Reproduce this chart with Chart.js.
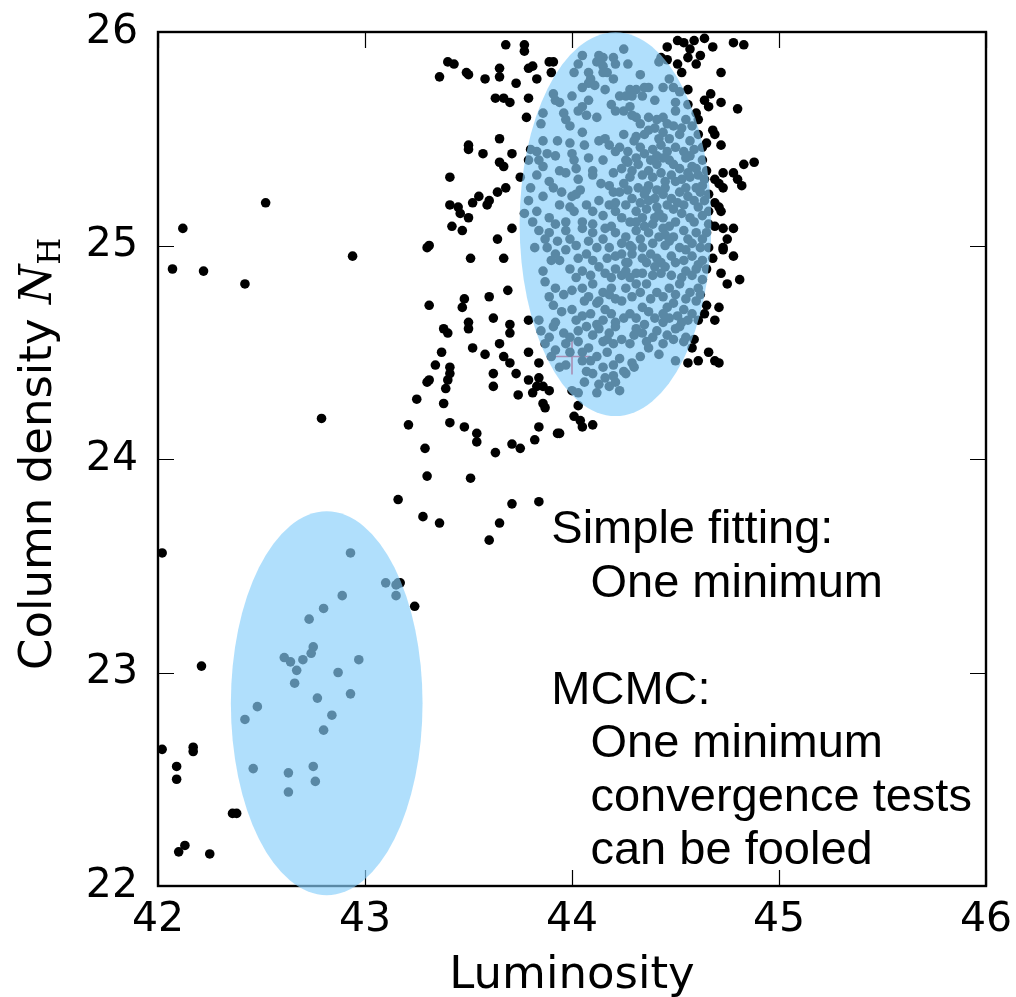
<!DOCTYPE html>
<html>
<head>
<meta charset="utf-8">
<script src="https://cdn.jsdelivr.net/npm/chart.js@4.4.1/dist/chart.umd.min.js"></script>
<style>
  html, body { margin: 0; padding: 0; background: #fff; }
  #wrap { width: 1016px; height: 997px; }
</style>
</head>
<body>
<div id="wrap"><canvas id="scatterChart"></canvas></div>
<script>
// tick labels
const lumTicks = [42, 43, 44, 45, 46];
const nhTicks = [22, 23, 24, 25, 26];

// black sample points around the upper solution (Luminosity, N_H)
const outerCloud = [
  [43.68,25.94],[43.77,25.94],[43.77,25.91],[43.40,25.86],[43.43,25.85],[43.36,25.79],[43.49,25.81],[43.50,25.80],
  [43.58,25.78],[43.65,25.83],[43.65,25.79],[43.73,25.76],[43.79,25.83],[43.81,25.84],[43.83,25.78],[43.91,25.86],
  [43.63,25.69],[43.67,25.69],[43.70,25.67],[43.79,25.69],[43.78,25.60],[43.65,25.50],[43.50,25.47],[43.50,25.45],
  [43.57,25.43],[43.71,25.43],[43.65,25.39],[43.67,25.37],[43.41,25.32],[43.75,25.32],[43.68,25.27],[43.64,25.25],
  [43.60,25.21],[43.59,25.19],[43.55,25.23],[43.52,25.20],[43.41,25.19],[43.45,25.18],[43.46,25.15],[43.50,25.13],
  [43.42,25.09],[43.47,25.07],[43.71,25.08],[43.64,25.03],[43.31,25.00],[43.30,24.99],[43.51,24.94],[43.67,24.94],
  [43.60,24.76],[43.69,24.79],[43.48,24.75],[43.47,24.71],[43.31,24.72],[43.38,24.61],[43.40,24.59],[43.50,24.64],
  [43.50,24.61],[43.62,24.66],[43.70,24.63],[43.70,24.59],[43.79,24.65],[43.52,24.52],[43.65,24.54],[43.58,24.49],
  [43.37,24.50],[43.67,24.48],[43.70,24.45],[43.73,24.40],[43.79,24.50],[43.84,24.45],[43.34,24.44],[43.41,24.43],
  [43.41,24.40],[43.40,24.37],[43.39,24.33],[43.30,24.36],[43.31,24.37],[43.62,24.40],[43.62,24.34],[43.79,24.37],
  [43.84,24.38],[43.83,24.34],[43.86,24.34],[43.89,24.32],[43.81,24.31],[43.86,24.26],[43.87,24.24],[43.74,24.30],
  [43.25,24.28],[43.38,24.26],[43.21,24.16],[43.41,24.17],[43.48,24.15],[43.54,24.12],[43.54,24.08],[43.84,24.15],
  [43.82,24.09],[43.93,24.12],[43.71,24.07],[43.75,24.05],[43.29,24.05],[43.63,24.03],[43.30,23.92],[43.89,25.86],
  [43.90,25.81],[44.01,24.20],[44.04,24.18],[44.10,24.16],[44.05,24.15],[43.94,24.12],[44.03,24.25],
  [43.16,23.81],[43.28,23.73],[43.36,23.70],[43.51,23.91],[43.71,23.79],[43.84,23.80],[43.65,23.70],[43.60,23.62],
  [43.24,23.31],[43.17,23.42],
  [42.12,25.08],[42.52,25.20],[42.07,24.89],[42.22,24.88],[42.42,24.82],[42.94,24.95],[42.79,24.19],
  [44.54,25.95],[44.59,25.96],[44.64,25.97],[44.68,25.93],[44.62,25.89],[44.56,25.88],[44.60,25.85],[44.78,25.95],
  [44.83,25.94],[44.72,25.81],[44.56,25.73],[44.64,25.68],[44.67,25.71],[44.72,25.67],[44.66,25.65],[44.80,25.64],
  [44.61,25.59],[44.68,25.54],[44.69,25.52],[44.65,25.48],[44.72,25.47],[44.88,25.39],[44.83,25.38],[44.78,25.34],
  [44.73,25.34],[44.69,25.31],[44.71,25.29],[44.80,25.31],[44.82,25.28],[44.73,25.27],[44.69,25.20],[44.71,25.18],
  [44.72,25.16],[44.69,25.09],[44.73,25.08],[44.78,25.08],[44.75,25.03],[44.73,24.99],[44.73,24.98],[44.68,24.94],
  [44.78,24.95],[44.72,24.87],[44.75,24.82],[44.81,24.84],[44.65,24.72],[44.71,24.71],[44.64,24.68],[44.69,24.65],
  [44.61,24.65],[44.59,24.56],[44.58,24.52],[44.66,24.50],[44.69,24.46],[44.71,24.45],[44.61,24.46],[44.56,24.45],
  [44.46,25.93],[44.51,25.96],[44.57,25.92],[44.43,25.88],[44.46,25.87],[44.51,25.85],[44.53,25.81]
];

// sample points inside the upper ellipse
const fitCloud = [
  [44.05,25.89],[44.13,25.89],[44.15,25.88],[44.20,25.88],[44.25,25.92],[44.21,25.85],[44.15,25.84],[44.12,25.86],
  [44.27,25.85],[44.01,25.81],[44.03,25.85],[44.08,25.81],[44.08,25.76],[44.09,25.78],[44.15,25.81],[44.17,25.81],
  [44.16,25.73],[44.28,25.73],[44.31,25.73],[44.29,25.70],[44.26,25.70],[44.34,25.70],[44.37,25.74],[44.35,25.74],
  [44.42,25.86],[44.47,25.78],[44.49,25.74],[44.52,25.72],[44.50,25.67],[44.50,25.63],[43.91,25.71],[43.92,25.68],
  [43.94,25.67],[44.00,25.70],[44.08,25.68],[44.05,25.65],[44.03,25.63],[44.21,25.63],[44.25,25.63],[44.29,25.61],
  [44.31,25.60],[44.28,25.65],[44.37,25.60],[44.41,25.59],[44.44,25.60],[44.49,25.56],[43.86,25.62],[43.85,25.57],
  [43.97,25.59],[43.99,25.56],[44.07,25.61],[44.55,25.59],
  [43.86,25.49],[43.83,25.44],[43.84,25.40],[43.79,25.40],[43.88,25.43],[43.92,25.42],[43.99,25.48],[44.00,25.43],
  [44.05,25.53],[44.13,25.49],[44.18,25.47],[44.16,25.50],[44.21,25.44],[44.25,25.52],[44.31,25.51],[44.37,25.54],
  [44.42,25.50],[44.47,25.50],[44.52,25.52],[44.57,25.49],[44.61,25.52],[44.01,25.40],[44.02,25.36],[44.08,25.41],
  [44.10,25.35],[44.10,25.33],[43.94,25.35],[43.97,25.34],[43.83,25.33],[43.89,25.30],[43.91,25.27],[43.80,25.27],
  [43.79,25.21],[44.04,25.26],[44.02,25.24],[43.99,25.18],[44.01,25.16],[43.94,25.19],[43.89,25.13],[43.83,25.16],
  [43.81,25.11],[44.18,25.28],[44.20,25.25],[44.25,25.29],[44.28,25.32],[44.26,25.40],[44.31,25.41],[44.32,25.38],
  [44.37,25.35],[44.41,25.38],[44.44,25.41],[44.47,25.40],[44.52,25.36],[44.55,25.41],[44.58,25.37],[44.63,25.40],
  [44.65,25.35],[44.37,25.28],[44.41,25.26],[44.45,25.27],[44.50,25.30],[44.57,25.32],[44.60,25.27],[44.63,25.28],
  [44.66,25.24],[44.13,25.21],[44.18,25.19],[44.10,25.16],[44.15,25.14],[44.21,25.16],[44.26,25.19],[44.29,25.22],
  [44.31,25.16],[44.34,25.13],[44.28,25.11],[44.37,25.21],[44.41,25.18],[44.44,25.13],[44.49,25.17],[44.54,25.19],
  [44.57,25.13],[44.61,25.18],[44.63,25.14],[44.66,25.16],[44.50,25.11],[44.39,25.10],[44.05,25.11],[44.10,25.10],
  [43.97,25.11],[43.92,25.10],
  [43.84,25.07],[43.89,25.06],[43.97,25.07],[43.99,25.03],[44.05,25.08],[44.10,25.06],[44.16,25.08],[44.21,25.06],
  [44.26,25.04],[44.31,25.07],[44.37,25.06],[44.44,25.08],[44.49,25.04],[44.54,25.07],[44.60,25.06],[44.65,25.06],
  [43.82,24.99],[43.88,24.99],[43.90,24.93],[43.94,24.93],[43.97,24.98],[44.07,24.96],[44.12,24.99],[43.99,24.89],
  [44.02,24.85],[44.18,24.99],[44.21,24.95],[44.29,24.96],[44.34,24.99],[44.39,25.01],[44.45,25.00],[44.52,24.99],
  [44.58,25.01],[44.63,25.03],[44.66,24.99],[44.13,24.90],[44.16,24.87],[44.21,24.89],[44.26,24.92],[44.31,24.87],
  [44.36,24.92],[44.41,24.94],[44.45,24.90],[44.50,24.92],[44.55,24.88],[44.61,24.91],[44.65,24.89],[43.87,24.83],
  [43.92,24.80],[43.96,24.77],[44.05,24.80],[44.10,24.82],[44.15,24.78],[44.21,24.75],[44.26,24.80],[44.31,24.82],
  [44.36,24.82],[44.41,24.78],[44.47,24.80],[44.52,24.82],[44.57,24.78],[44.61,24.80],[44.62,24.77],[43.91,24.72],
  [44.00,24.70],[44.05,24.67],[44.12,24.73],[44.16,24.70],[44.21,24.64],[44.28,24.68],[44.34,24.71],[44.37,24.69],
  [44.44,24.68],[44.49,24.73],[44.54,24.70],[44.58,24.68],[44.44,24.64],[43.84,24.65],[43.92,24.64],[44.15,24.65],
  [43.85,24.60],[43.91,24.62],[43.96,24.59],[44.03,24.60],[44.07,24.62],[44.13,24.61],[44.18,24.59],[44.21,24.62],
  [44.31,24.61],[44.34,24.59],[44.41,24.60],[44.50,24.61],[44.55,24.57],[44.52,24.62],[43.87,24.54],[43.92,24.51],
  [43.97,24.54],[44.03,24.55],[44.05,24.50],[44.08,24.52],[44.15,24.55],[44.20,24.54],[44.30,24.58],[44.36,24.55],
  [44.44,24.54],[44.49,24.56],[44.54,24.55],[43.94,24.43],[43.97,24.44],[44.05,24.46],[44.12,24.48],[44.15,24.43],
  [44.20,24.44],[44.25,24.41],[44.33,24.48],[44.50,24.46],[44.10,24.40],[44.16,24.38],[44.13,24.35],[44.18,24.34],
  [44.12,24.31],[44.21,24.36],[44.26,24.40],[44.00,24.32],[44.03,24.31]
];

// extra samples in the darkest part of the upper ellipse
const fitCore = [
  [44.23,25.46],[44.27,25.44],[44.33,25.46],[44.35,25.43],[44.39,25.45],[44.43,25.47],[44.46,25.44],[44.50,25.46],
  [44.54,25.44],[44.59,25.45],[44.63,25.46],[44.24,25.36],[44.29,25.35],[44.34,25.33],[44.39,25.32],[44.43,25.34],
  [44.48,25.33],[44.53,25.31],[44.56,25.34],[44.61,25.33],[44.64,25.31],[44.23,25.25],[44.27,25.26],[44.32,25.27],
  [44.35,25.24],[44.40,25.22],[44.44,25.24],[44.48,25.22],[44.52,25.25],[44.56,25.23],[44.59,25.21],[44.64,25.21],
  [44.24,25.13],[44.31,25.11],[44.36,25.17],[44.42,25.15],[44.46,25.19],[44.53,25.15],[44.59,25.11],[44.66,25.10],
  [44.33,25.57],[44.40,25.55],[44.46,25.57],[44.53,25.55],[44.58,25.56],[44.44,25.53],[44.35,25.52],
  [43.87,25.03],[43.93,25.02],[44.02,25.00],[44.08,25.02],[44.15,25.03],[44.24,25.01],[44.28,25.00],[44.33,25.03],
  [44.42,25.04],[44.47,25.02],[44.56,25.03],[44.62,24.99],[43.92,24.96],[44.03,24.94],[44.10,24.93],[44.17,24.94],
  [44.24,24.96],[44.27,24.92],[44.34,24.94],[44.38,24.96],[44.43,24.92],[44.48,24.95],[44.54,24.93],[44.58,24.95],
  [44.63,24.93],[43.86,24.88],[44.05,24.88],[44.09,24.86],[44.19,24.85],[44.24,24.86],[44.28,24.85],[44.34,24.87],
  [44.39,24.86],[44.43,24.87],[44.48,24.86],[44.53,24.85],[44.58,24.86],[44.63,24.84],[43.89,24.76],[44.00,24.79],
  [44.08,24.76],[44.13,24.74],[44.18,24.77],[44.24,24.74],[44.29,24.76],[44.33,24.78],[44.38,24.75],[44.44,24.76],
  [44.50,24.77],[44.55,24.75],[44.60,24.74],[43.95,24.69],[44.02,24.65],[44.09,24.68],[44.19,24.68],[44.25,24.66],
  [44.31,24.66],[44.40,24.66],[44.47,24.66],[44.51,24.67],[44.56,24.65],
  [43.89,24.57],[43.99,24.57],[44.10,24.58],[44.17,24.56],[44.24,24.56],[44.28,24.54],[44.39,24.57],[44.46,24.58],
  [43.90,24.48],[43.99,24.50],[44.09,24.46],[44.17,24.50],[44.23,24.47],[44.29,24.45],[44.37,24.52],[44.42,24.49],
  [44.07,24.41],[44.20,24.39],[44.30,24.43],[44.06,24.36],[44.23,24.32],
  [44.11,25.75],[44.20,25.78],[44.23,25.70],[44.40,25.68],[44.44,25.74],[44.56,25.66],[44.19,25.66],[43.96,25.62],
  [44.12,25.60],[44.60,25.62],[44.05,25.74],[44.33,25.80],
  [43.80,25.45],[43.86,25.37],[43.93,25.49],[44.06,25.47],[44.03,25.31],[44.14,25.29],[44.07,25.19],[43.86,25.23],
  [43.95,25.25],[44.15,25.40],[44.20,25.34],[43.77,25.15],[44.00,25.23],
  [44.30,25.49],[44.41,25.42],[44.49,25.38],[44.57,25.42],[44.45,25.30],[44.38,25.40],[44.62,25.25],[44.33,25.20],
  [44.47,25.09],[44.55,25.27],[44.27,25.39],[44.36,25.26],[44.51,25.20],[44.60,25.36],[44.40,25.13],[44.21,25.20],
  [44.19,25.09],[44.29,24.99],[44.40,24.90],[44.19,24.80],[44.46,24.71],[44.35,24.63],[44.12,24.63],[44.06,24.74],
  [44.55,24.98],[44.45,25.05],[44.35,25.09],[44.26,24.88],[44.53,24.64],[44.60,24.89]
];

// points of the lower solution
const lowCloud = [
  [42.93,23.56],[43.10,23.42],[43.15,23.41],[43.15,23.36],[43.16,23.42],[42.89,23.36],[42.80,23.30],[42.73,23.25],
  [42.75,23.12],[42.74,23.09],[42.70,23.06],[42.67,23.01],[42.64,23.05],[42.61,23.07],[42.66,22.95],[42.97,23.06],
  [42.87,23.00],[42.77,22.88],[42.93,22.90],[42.48,22.84],[42.42,22.78],[42.84,22.80],[42.80,22.73],[42.46,22.55],
  [42.63,22.53],[42.63,22.44],[42.75,22.56],[42.76,22.49],
  [42.02,23.56],[42.21,23.03],[42.02,22.64],[42.17,22.63],[42.17,22.65],[42.09,22.56],[42.09,22.50],[42.36,22.34],
  [42.38,22.34],[42.13,22.19],[42.10,22.16],[42.25,22.15]
];

// true value marker
const truePoint = [44.00, 24.48];

// shaded regions: centre (L, N_H) and half widths
const regionCentres = [[44.21, 25.10], [42.815, 22.856]];
const regionRadii = [[0.463, 0.899], [0.463, 0.899]];

// annotation lines
const noteLines = ['Simple fitting:', '   One minimum', '', 'MCMC:', '   One minimum', '   convergence tests', '   can be fooled'];

const toXY = arr => arr.map(p => ({ x: p[0], y: p[1] }));

const overlay = {
  id: 'overlay',
  afterDatasetsDraw(chart) {
    const { ctx, chartArea: a, scales: { x, y } } = chart;
    ctx.save();
    // inward ticks on all four sides
    ctx.strokeStyle = '#000';
    ctx.lineWidth = 1.2;
    ctx.beginPath();
    lumTicks.forEach(v => {
      const px = Math.round(x.getPixelForValue(v)) + 0.5;
      ctx.moveTo(px, a.bottom); ctx.lineTo(px, a.bottom - 16);
      ctx.moveTo(px, a.top); ctx.lineTo(px, a.top + 16);
    });
    nhTicks.forEach(v => {
      const py = Math.round(y.getPixelForValue(v)) + 0.5;
      ctx.moveTo(a.left, py); ctx.lineTo(a.left + 16, py);
      ctx.moveTo(a.right, py); ctx.lineTo(a.right - 16, py);
    });
    ctx.stroke();
    ctx.lineWidth = 2.4;
    ctx.strokeRect(a.left, a.top, a.right - a.left, a.bottom - a.top);

    // shaded ellipses
    ctx.fillStyle = 'rgba(135, 206, 250, 0.66)';
    regionCentres.forEach((c, i) => {
      const cx = x.getPixelForValue(c[0]);
      const cy = y.getPixelForValue(c[1]);
      const rx = Math.abs(x.getPixelForValue(c[0] + regionRadii[i][0]) - cx);
      const ry = Math.abs(y.getPixelForValue(c[1] + regionRadii[i][1]) - cy);
      ctx.beginPath();
      ctx.ellipse(cx, cy, rx, ry, 0, 0, 2 * Math.PI);
      ctx.fill();
    });

    // annotation text
    ctx.fillStyle = '#000';
    ctx.font = '47px "Liberation Sans", Arial, sans-serif';
    ctx.textBaseline = 'alphabetic';
    ctx.textAlign = 'left';
    const tx = x.getPixelForValue(43.90);
    const ty = y.getPixelForValue(23.605);
    noteLines.forEach((t, i) => ctx.fillText(t, tx, ty + i * 53.5));
    ctx.restore();
  },
  afterDraw(chart) {
    const { ctx } = chart;
    ctx.save();
    ctx.translate(51, 670);
    ctx.rotate(-Math.PI / 2);
    ctx.fillStyle = '#000';
    ctx.textBaseline = 'alphabetic';
    ctx.font = '45px "DejaVu Sans"';
    const lead = 'Column density ';
    ctx.fillText(lead, 0, 0);
    let w = ctx.measureText(lead).width;
    ctx.font = 'italic 45px "DejaVu Serif"';
    ctx.fillText('N', w, 0);
    w += ctx.measureText('N').width;
    ctx.font = '31px "DejaVu Serif"';
    ctx.fillText('H', w, 9);
    ctx.restore();
  }
};

new Chart(document.getElementById('scatterChart'), {
  type: 'scatter',
  data: {
    datasets: [{
      label: 'samples',
      data: toXY(outerCloud.concat(fitCloud, fitCore, lowCloud)),
      backgroundColor: '#000',
      borderWidth: 0,
      pointRadius: 4.8,
      clip: 0
    }, {
      label: 'true value',
      data: toXY([truePoint]),
      pointStyle: 'cross',
      pointRadius: 18,
      borderColor: 'rgb(235, 20, 45)',
      borderWidth: 1.6,
      clip: 0
    }]
  },
  options: {
    responsive: true,
    maintainAspectRatio: false,
    animation: false,
    events: [],
    layout: { padding: { top: 32, right: 30, left: 0, bottom: 0 } },
    plugins: { legend: { display: false }, tooltip: { enabled: false } },
    scales: {
      x: {
        type: 'linear',
        min: 42, max: 46,
        afterBuildTicks: s => { s.ticks = lumTicks.map(v => ({ value: v })); },
        afterFit: s => { s.height = 111; s.paddingLeft = 0; s.paddingRight = 0; },
        grid: { display: false, drawTicks: false },
        border: { display: false },
        ticks: {
          color: '#000', padding: 10, maxRotation: 0, autoSkip: false,
          font: { family: 'DejaVu Sans', size: 41 }
        },
        title: {
          display: true, text: 'Luminosity', color: '#000',
          font: { family: 'DejaVu Sans', size: 45, lineHeight: 1 },
          padding: { top: 0, bottom: -2 }
        }
      },
      y: {
        type: 'linear',
        min: 22, max: 26,
        afterBuildTicks: s => { s.ticks = nhTicks.map(v => ({ value: v })); },
        afterFit: s => { s.width = 158; s.paddingTop = 0; s.paddingBottom = 0; },
        grid: { display: false, drawTicks: false },
        border: { display: false },
        ticks: {
          color: '#000', padding: 20, autoSkip: false,
          font: { family: 'DejaVu Sans', size: 41 }
        }
      }
    }
  },
  plugins: [overlay]
});
</script>
</body>
</html>
